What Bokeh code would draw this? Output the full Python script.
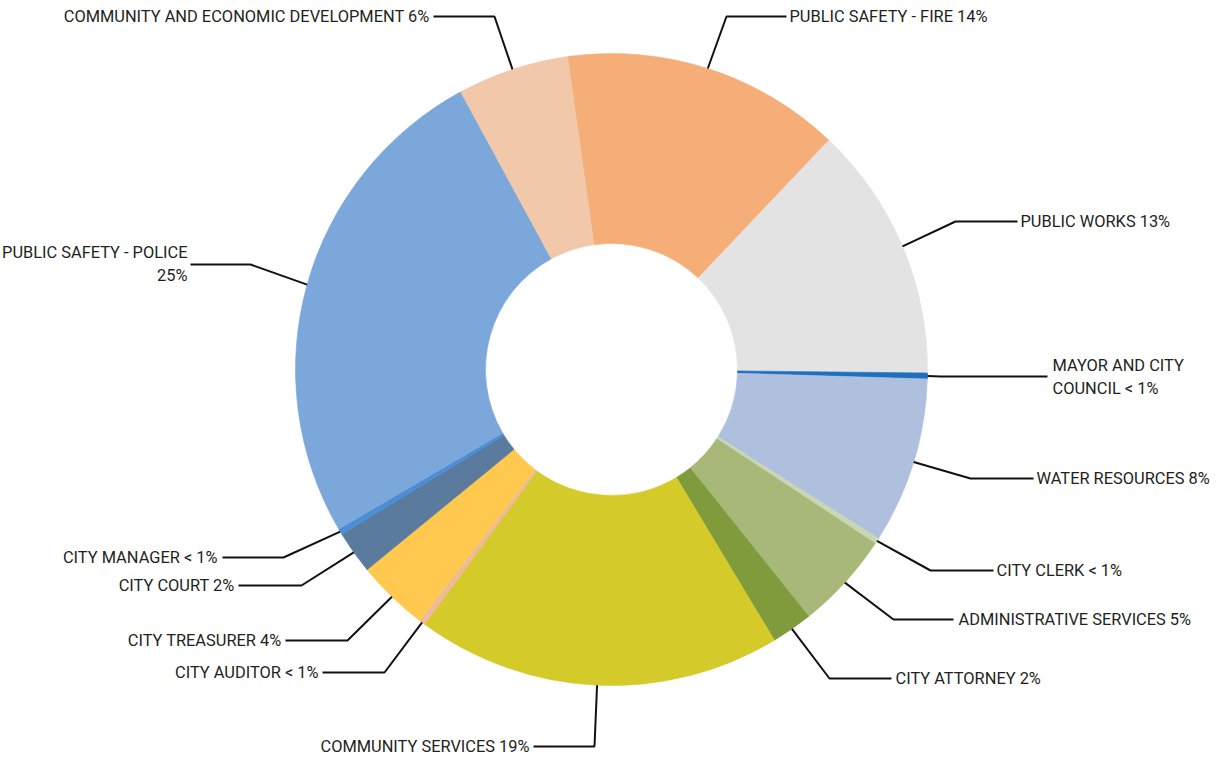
import math
from bokeh.plotting import figure
from bokeh.models import Range1d, ColumnDataSource
from bokeh.core.properties import value
from bokeh.embed import file_html
from bokeh.resources import INLINE

# ---- data ----
departments = ["PUBLIC SAFETY - FIRE", "PUBLIC WORKS", "MAYOR AND CITY COUNCIL",
               "WATER RESOURCES", "CITY CLERK", "ADMINISTRATIVE SERVICES",
               "CITY ATTORNEY", "COMMUNITY SERVICES", "CITY AUDITOR",
               "CITY TREASURER", "CITY COURT", "CITY MANAGER",
               "PUBLIC SAFETY - POLICE", "COMMUNITY AND ECONOMIC DEVELOPMENT"]
shares = [14.3, 13.1, 0.3, 8.5, 0.3, 5.0, 2.1, 18.7, 0.3, 3.7, 2.2, 0.3, 25.5, 5.7]
share_labels = ["14%", "13%", "< 1%", "8%", "< 1%", "5%", "2%", "19%", "< 1%",
                "4%", "2%", "< 1%", "25%", "6%"]
label_texts = ["PUBLIC SAFETY - FIRE 14%", "PUBLIC WORKS 13%",
               "MAYOR AND CITY\nCOUNCIL < 1%", "WATER RESOURCES 8%",
               "CITY CLERK < 1%", "ADMINISTRATIVE SERVICES 5%",
               "CITY ATTORNEY 2%", "COMMUNITY SERVICES 19%",
               "CITY AUDITOR < 1%", "CITY TREASURER 4%", "CITY COURT 2%",
               "CITY MANAGER < 1%", "PUBLIC SAFETY - POLICE\n25%",
               "COMMUNITY AND ECONOMIC DEVELOPMENT 6%"]
colors = ["#F5AE78", "#E3E3E3", "#1E70BF", "#AFC0DE", "#C8D6B4", "#A7B878",
          "#7F9B3B", "#D4CA2A", "#EDBA9B", "#FFC94F", "#5A7A9E", "#4B8ED6",
          "#7BA7DB", "#F1C8AA"]

# ---- layout (page pixel coordinates) ----
CX, CY = 611, 369
R_OUT, R_IN = 316, 126
START_DEG = -8.0  # clockwise from 12 o'clock
# (elbow x, elbow y, end x, end y, text x, first line y, align)
leader = [
    (726, 16, 786, 16, 789, 16, "left"),
    (955, 221, 1017, 221, 1020, 221, "left"),
    (940, 376, 1047, 376, 1052, 365, "left"),
    (970, 478, 1033, 478, 1036, 478, "left"),
    (930, 570, 993, 570, 996, 570, "left"),
    (893, 619, 953, 619, 958, 619, "left"),
    (829, 678, 891, 678, 895, 678, "left"),
    (594, 746, 533, 746, 529, 746, "right"),
    (384, 672, 322, 672, 318, 672, "right"),
    (347, 640, 285, 640, 281, 640, "right"),
    (301, 585, 238, 585, 234, 585, "right"),
    (283, 557, 222, 557, 217, 557, "right"),
    (250, 264, 190, 264, 187, 252, "right"),
    (494, 16, 433, 16, 429, 16, "right"),
]
LINE_GAP = 23

W, H = 1221, 757
p = figure(width=W, height=H, output_backend="svg", toolbar_location=None,
           x_range=Range1d(0, W), y_range=Range1d(-H, 0),
           min_border=0)
p.axis.visible = False
p.grid.visible = False
p.outline_line_color = None
p.background_fill_color = "white"

total = sum(shares)
starts, ends, mids = [], [], []
a = START_DEG
for s in shares:
    d = s / total * 360.0
    starts.append(a)
    ends.append(a + d)
    mids.append(a + d / 2)
    a += d

src = ColumnDataSource(dict(
    start=[math.radians(90 - t) for t in starts],
    end=[math.radians(90 - t) for t in ends],
    color=colors, name=departments, share=shares))
p.annular_wedge(x=CX, y=-CY, inner_radius=R_IN, outer_radius=R_OUT,
                start_angle="start", end_angle="end", direction="clock",
                fill_color="color", line_color="color", line_width=0.6,
                source=src)

xs, ys = [], []
tx, ty, tt, ta = [], [], [], []
for i, m in enumerate(mids):
    ax = CX + R_OUT * math.sin(math.radians(m))
    ay = CY - R_OUT * math.cos(math.radians(m))
    ex, ey, nx, ny, txx, ly, al = leader[i]
    xs.append([ax, ex, nx])
    ys.append([-ay, -ey, -ny])
    for k, line in enumerate(label_texts[i].split("\n")):
        tx.append(txx)
        ty.append(-(ly + k * LINE_GAP))
        tt.append(line)
        ta.append(al)

p.multi_line(xs=xs, ys=ys, line_color="#111111", line_width=2)
tsrc = ColumnDataSource(dict(x=tx, y=ty, text=tt, align=ta))
p.text(x="x", y="y", text="text", text_align="align", text_baseline="middle",
       text_font=value("Roboto"), text_font_size="16.4px", text_color="#231F20",
       source=tsrc)

open("out.html", "w").write(file_html(p, INLINE))
